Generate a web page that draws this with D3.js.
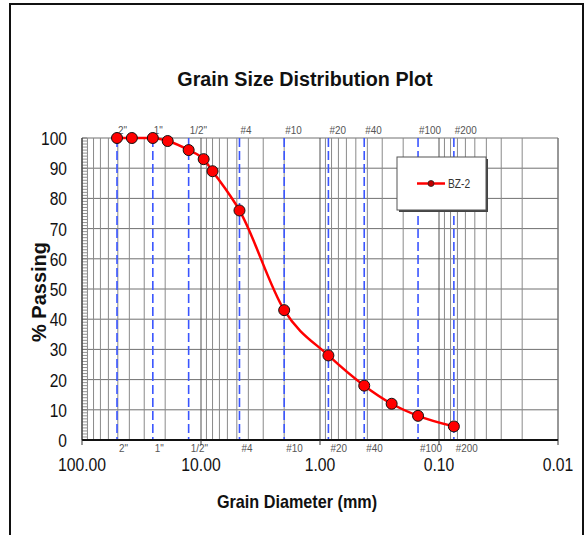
<!DOCTYPE html>
<html>
<head>
<meta charset="utf-8">
<script src="https://cdn.jsdelivr.net/npm/d3@7/dist/d3.min.js"></script>
<style>
  body { margin: 0; background: #fff; }
  svg { display: block; font-family: "Liberation Sans", Arial, sans-serif; }
</style>
</head>
<body>
<script>
let width = 586;
let height = 535;

// sample BZ-2
let diameters = [50.8, 38.1, 25.4, 19.05, 12.7, 9.5, 8.0, 4.75, 2.0, 0.85, 0.425, 0.25, 0.15, 0.075];
let passing   = [100, 100, 100, 99, 96, 93, 89, 76, 43, 28, 18, 12, 8, 4.5];

// sieve marks
let sieveNames = ["2\"", "1\"", "1/2\"", "#4", "#10", "#20", "#40", "#100", "#200"];
let sieveSizes = [50.8, 25.4, 12.7, 4.75, 2.0, 0.85, 0.425, 0.15, 0.075];

// tick labels
let xTicks = [100, 10, 1, 0.1, 0.01];
let xTickLabels = ["100.00", "10.00", "1.00", "0.10", "0.01"];
let yTicks = [0, 10, 20, 30, 40, 50, 60, 70, 80, 90, 100];

let plotL = 82, plotR = 558, plotT = 138, plotB = 440;

let xScale = d3.scaleLog()
    .domain([100, 0.01])
    .range([plotL, plotR]);

let yScale = d3.scaleLinear()
    .domain([0, 100])
    .range([plotB, plotT]);

let svg = d3.select("body")
    .append("svg")
    .attr("width", width)
    .attr("height", height);

// squeezed text helper (the original fonts are narrow)
function label(g, txt, x, y, size, sx, anchor, weight, fill) {
    return g.append("text")
        .attr("transform", "translate(" + x + "," + y + ") scale(" + sx + ",1)")
        .attr("text-anchor", anchor)
        .attr("font-size", size + "px")
        .attr("font-weight", weight || "normal")
        .attr("fill", fill || "#111")
        .text(txt);
}

//outer frame
svg.append("rect")
    .attr("x", 10).attr("y", 4)
    .attr("width", 573).attr("height", 560)
    .attr("fill", "none")
    .attr("stroke", "#111")
    .attr("stroke-width", 2);

//title
label(svg, "Grain Size Distribution Plot", 305, 86, 21, 0.94, "middle", "bold");

//horizontal grid
svg.selectAll(".hgrid")
    .data(yTicks)
    .enter()
    .append("line")
    .attr("x1", plotL).attr("x2", plotR)
    .attr("y1", d => yScale(d)).attr("y2", d => yScale(d))
    .attr("stroke", "#707070")
    .attr("stroke-width", 1);

//vertical log grid
let logTicks = xScale.ticks();
svg.selectAll(".vgrid")
    .data(logTicks)
    .enter()
    .append("line")
    .attr("x1", d => xScale(d)).attr("x2", d => xScale(d))
    .attr("y1", plotT).attr("y2", plotB)
    .attr("stroke", d => Math.abs(Math.log10(d) % 1) < 1e-9 ? "#505050" : "#8a8a8a")
    .attr("stroke-width", 1);

//sieve lines
svg.selectAll(".sieve")
    .data(sieveSizes)
    .enter()
    .append("line")
    .attr("x1", d => xScale(d)).attr("x2", d => xScale(d))
    .attr("y1", plotT).attr("y2", plotB)
    .attr("stroke", "#3a55ff")
    .attr("stroke-width", 1.6)
    .attr("stroke-dasharray", "9,4");

//sieve labels top and bottom
sieveSizes.forEach(function(s, i) {
    label(svg, sieveNames[i], xScale(s) + 1, 134, 11, 0.9, "start", "normal", "#555");
    label(svg, sieveNames[i], xScale(s) + 2, 452, 11, 0.9, "start", "normal", "#555");
});

//y minor ticks
svg.selectAll(".ytick")
    .data(d3.range(0, 101, 1))
    .enter()
    .append("line")
    .attr("x1", plotL).attr("x2", plotL + 5)
    .attr("y1", d => yScale(d)).attr("y2", d => yScale(d))
    .attr("stroke", "#777")
    .attr("stroke-width", 0.8);

//axes lines
svg.append("line")
    .attr("x1", plotL).attr("x2", plotL)
    .attr("y1", plotT).attr("y2", plotB)
    .attr("stroke", "#333").attr("stroke-width", 1);
svg.append("line")
    .attr("x1", plotR).attr("x2", plotR)
    .attr("y1", plotT).attr("y2", plotB)
    .attr("stroke", "#888").attr("stroke-width", 1);
svg.append("line")
    .attr("x1", plotL).attr("x2", plotR)
    .attr("y1", plotB).attr("y2", plotB)
    .attr("stroke", "#111").attr("stroke-width", 2);

svg.selectAll(".xtick")
    .data(xTicks)
    .enter()
    .append("line")
    .attr("x1", d => xScale(d)).attr("x2", d => xScale(d))
    .attr("y1", plotB).attr("y2", plotB + 5)
    .attr("stroke", "#333");

//tick labels
xTicks.forEach(function(t, i) {
    label(svg, xTickLabels[i], xScale(t), 471, 19, 0.83, "middle");
});
yTicks.forEach(function(t) {
    label(svg, t, 67, yScale(t) + 7, 19, 0.82, "end");
});

//axis titles
label(svg, "Grain Diameter (mm)", 297, 508, 18, 0.9, "middle", "bold");
svg.append("text")
    .attr("transform", "translate(46,292) rotate(-90)")
    .attr("text-anchor", "middle")
    .attr("font-size", "20px")
    .attr("font-weight", "bold")
    .attr("fill", "#111")
    .text("% Passing");

//curve
let points = diameters.map((d, i) => [xScale(d), yScale(passing[i])]);

svg.append("path")
    .attr("d", d3.line().curve(d3.curveMonotoneX)(points))
    .attr("fill", "none")
    .attr("stroke", "#ff0000")
    .attr("stroke-width", 2.5);

svg.selectAll(".pt")
    .data(points)
    .enter()
    .append("circle")
    .attr("cx", d => d[0])
    .attr("cy", d => d[1])
    .attr("r", 5.5)
    .attr("fill", "#ff0000")
    .attr("stroke", "#111")
    .attr("stroke-width", 1);

//legend
let lg = svg.append("g");
lg.append("rect")
    .attr("x", 399).attr("y", 159)
    .attr("width", 89).attr("height", 53)
    .attr("fill", "#444");
lg.append("rect")
    .attr("x", 397).attr("y", 157)
    .attr("width", 89).attr("height", 53)
    .attr("fill", "#fff")
    .attr("stroke", "#555")
    .attr("stroke-width", 1);
lg.append("line")
    .attr("x1", 417).attr("x2", 445)
    .attr("y1", 183.5).attr("y2", 183.5)
    .attr("stroke", "#ff0000")
    .attr("stroke-width", 2.5);
lg.append("circle")
    .attr("cx", 431).attr("cy", 183.5)
    .attr("r", 3)
    .attr("fill", "#c00000")
    .attr("stroke", "#222")
    .attr("stroke-width", 0.8);
label(lg, "BZ-2", 448, 187.5, 12, 0.85, "start", "normal", "#333");
</script>
</body>
</html>
